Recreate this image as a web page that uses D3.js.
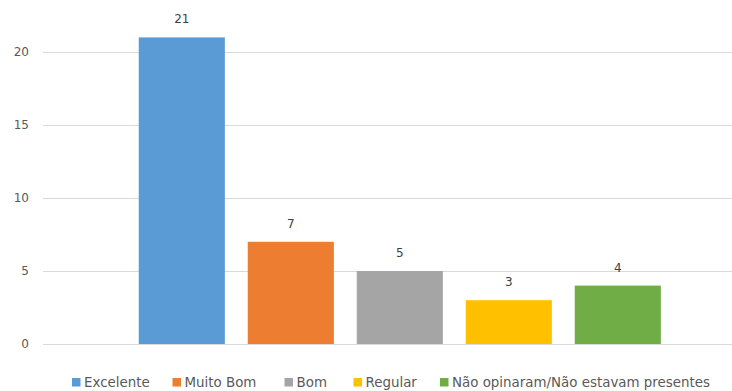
<!DOCTYPE html>
<html>
<head>
<meta charset="utf-8">
<script src="https://cdn.jsdelivr.net/npm/d3@7"></script>
<style>
  html, body { margin: 0; padding: 0; background: #fff; }
  svg { display: block; font-family: "DejaVu Sans", "Liberation Sans", sans-serif; }
</style>
</head>
<body>
<svg id="chart" width="732" height="391"></svg>
<script>
const categories = ["Excelente", "Muito Bom", "Bom", "Regular", "Não opinaram/Não estavam presentes"];
const values = [21, 7, 5, 3, 4];
const colors = ["#5B9BD5", "#ED7D31", "#A5A5A5", "#FFC000", "#70AD47"];
const yTicks = [0, 5, 10, 15, 20];

const svg = d3.select("#chart");
const W = 732, H = 391;

const y = d3.scaleLinear().domain([0, 20]).range([344, 52]);
const x = d3.scaleBand().domain(categories).range([127.3, 672.3]).paddingInner(0.21).paddingOuter(0.105);

// gridlines
const yAxis = d3.axisLeft(y).tickValues(yTicks).tickSize(-(W - 43)).tickPadding(14);
const gAxis = svg.append("g").attr("transform", "translate(43,0)").call(yAxis);
gAxis.select(".domain").remove();
gAxis.selectAll(".tick line").attr("stroke", "#D9D9D9").attr("stroke-width", 1);
gAxis.selectAll(".tick text").attr("fill", "#595959").style("font-size", "12px")
  .style("font-family", "'DejaVu Sans', sans-serif");

// bars
svg.append("g").selectAll("rect").data(values).join("rect")
  .attr("x", (d, i) => x(categories[i]))
  .attr("y", d => y(d))
  .attr("width", x.bandwidth())
  .attr("height", d => y(0) - y(d))
  .attr("fill", (d, i) => colors[i]);

// data labels
svg.append("g").selectAll("text").data(values).join("text")
  .attr("x", (d, i) => x(categories[i]) + x.bandwidth() / 2)
  .attr("y", d => y(d) - 14)
  .attr("text-anchor", "middle")
  .attr("fill", "#404040")
  .style("font-size", "12px")
  .text(d => d);

// legend
const legendX = [72, 172.5, 284.5, 353.5, 440];
const lg = svg.append("g");
categories.forEach((c, i) => {
  lg.append("rect").attr("x", legendX[i]).attr("y", 378).attr("width", 8.5).attr("height", 8.5)
    .attr("fill", colors[i]);
  lg.append("text").attr("x", legendX[i] + 12).attr("y", 387)
    .attr("fill", "#595959").style("font-size", "13.4px").text(c);
});
</script>
</body>
</html>
